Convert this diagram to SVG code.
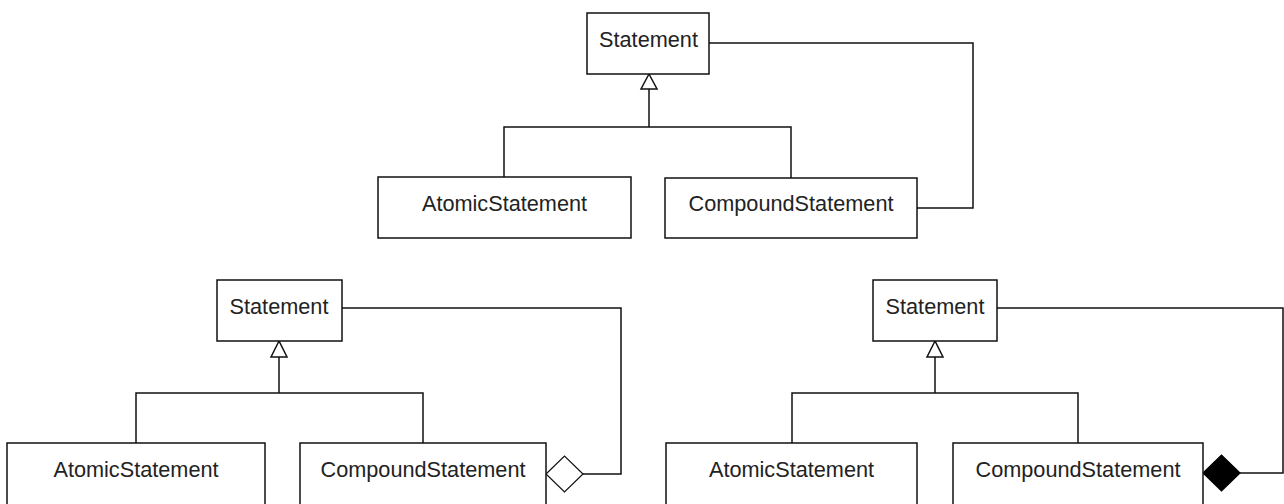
<svg xmlns="http://www.w3.org/2000/svg" width="1284" height="504" viewBox="0 0 1284 504">
  <style>
    .box { fill: #fff; stroke: #111; stroke-width: 1.5; }
    .lbl { font-family: "Liberation Sans", Arial, sans-serif; font-size: 21.7px; fill: #222; text-anchor: middle; }
    .wire { fill: none; stroke: #111; stroke-width: 1.5; }
    .tri { fill: #fff; stroke: #111; stroke-width: 1.5; }
    .agg { fill: #fff; stroke: #111; stroke-width: 1.2; }
    .comp { fill: #000; stroke: #000; stroke-width: 1.2; }
  </style>

  <!-- connectors -->
  <g id="connectors">
    <!-- top: generalization -->
    <path class="wire" d="M649 89 V127 M504 177 V127 H791 V178"/>
    <polygon class="tri" points="649,74 641,89 657,89"/>
    <!-- top: plain association loop -->
    <path class="wire" d="M709 43 H973 V208 H917"/>

    <!-- bottom left: generalization -->
    <path class="wire" d="M279 357 V393 M136 443 V393 H423 V443"/>
    <polygon class="tri" points="279,341 271,357 287,357"/>
    <!-- bottom left: aggregation loop -->
    <path class="wire" d="M342 308 H621 V474 H583"/>
    <polygon class="agg" points="546,474 564.5,456 583,474 564.5,492"/>

    <!-- bottom right: generalization -->
    <path class="wire" d="M935 357 V393 M792 443 V393 H1078 V443"/>
    <polygon class="tri" points="935,341 927,357 943,357"/>
    <!-- bottom right: composition loop -->
    <path class="wire" d="M997 308 H1283 V473 H1240"/>
    <polygon class="comp" points="1203,473 1221.5,455 1240,473 1221.5,491"/>
  </g>

  <!-- top diagram -->
  <g id="top-statement">
    <rect class="box" x="587" y="13" width="122" height="61"/>
    <text class="lbl" x="648.5" y="46.5">Statement</text>
  </g>
  <g id="top-atomic">
    <rect class="box" x="378" y="177" width="253" height="61"/>
    <text class="lbl" x="504.5" y="210.5">AtomicStatement</text>
  </g>
  <g id="top-compound">
    <rect class="box" x="665" y="178" width="252" height="60"/>
    <text class="lbl" x="791" y="211">CompoundStatement</text>
  </g>

  <!-- bottom left diagram -->
  <g id="left-statement">
    <rect class="box" x="217" y="280" width="125" height="61"/>
    <text class="lbl" x="279" y="313.5">Statement</text>
  </g>
  <g id="left-atomic">
    <rect class="box" x="7" y="443" width="258" height="70"/>
    <text class="lbl" x="136" y="477">AtomicStatement</text>
  </g>
  <g id="left-compound">
    <rect class="box" x="300" y="443" width="246" height="70"/>
    <text class="lbl" x="423" y="477">CompoundStatement</text>
  </g>

  <!-- bottom right diagram -->
  <g id="right-statement">
    <rect class="box" x="873" y="280" width="124" height="61"/>
    <text class="lbl" x="935" y="313.5">Statement</text>
  </g>
  <g id="right-atomic">
    <rect class="box" x="666" y="443" width="251" height="70"/>
    <text class="lbl" x="791.5" y="477">AtomicStatement</text>
  </g>
  <g id="right-compound">
    <rect class="box" x="953" y="443" width="250" height="70"/>
    <text class="lbl" x="1078" y="477">CompoundStatement</text>
  </g>
</svg>
